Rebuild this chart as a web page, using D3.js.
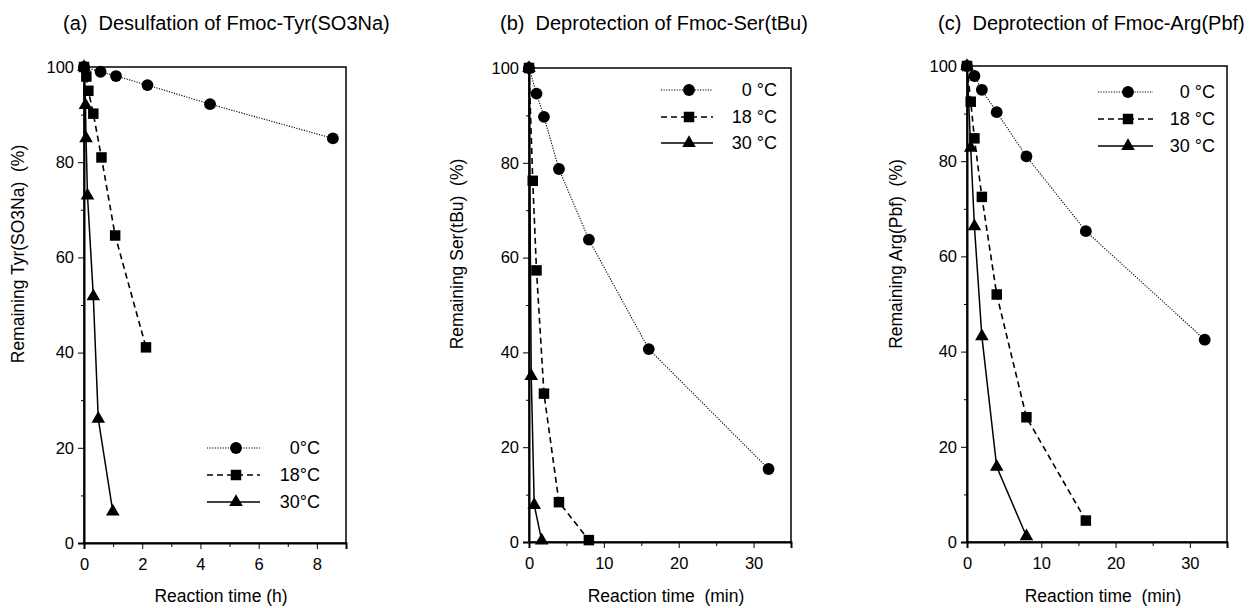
<!DOCTYPE html>
<html>
<head>
<meta charset="utf-8">
<script src="https://cdn.jsdelivr.net/npm/d3@7"></script>
<style>
  body { margin: 0; background: #fff; }
  svg { font-family: "Liberation Sans", Arial, sans-serif; }
  svg text { white-space: pre; }
</style>
</head>
<body>
<svg id="chart" width="1256" height="608"></svg>
<script>
// panel (a): desulfation, time in hours
const tyrTime0 = [0, 0.57, 1.1, 2.18, 4.33, 8.55];
const tyrVal0 = [100, 99, 98.1, 96.2, 92.2, 85];
const tyrTime18 = [0, 0.08, 0.15, 0.32, 0.6, 1.07, 2.13];
const tyrVal18 = [100, 98, 95, 90.2, 81, 64.6, 41.1];
const tyrTime30 = [0, 0.05, 0.07, 0.12, 0.32, 0.49, 0.99];
const tyrVal30 = [100, 92, 85, 73, 51.8, 26.1, 6.6];

// panel (b): Ser(tBu), time in minutes
const serTime0 = [0, 1, 2, 4, 8, 16, 32];
const serVal0 = [100, 94.6, 89.7, 78.7, 63.8, 40.7, 15.4];
const serTime18 = [0, 0.5, 1, 2, 4, 8];
const serVal18 = [100, 76.2, 57.3, 31.3, 8.4, 0.4];
const serTime30 = [0, 0.3, 0.7, 1.7];
const serVal30 = [100, 35, 7.8, 0.3];

// panel (c): Arg(Pbf), time in minutes
const argTime0 = [0, 1, 2, 4, 8, 16, 32];
const argVal0 = [100, 97.9, 95, 90.3, 81, 65.3, 42.5];
const argTime18 = [0, 0.5, 1, 2, 4, 8, 16];
const argVal18 = [100, 92.5, 84.8, 72.5, 52, 26.2, 4.5];
const argTime30 = [0, 0.5, 1, 2, 4, 8];
const argVal30 = [100, 82.8, 66.3, 43.2, 15.8, 1.2];

const yTicks = [0, 20, 40, 60, 80, 100];
const yMinor = d3.range(0, 101, 10);

const panels = [
  {
    title: "(a)  Desulfation of Fmoc-Tyr(SO3Na)", titleX: 63,
    ylabel: "Remaining Tyr(SO3Na)  (%)", ylabelX: 24,
    xlabel: "Reaction time (h)",
    x0: 84, x1: 346, y0: 543, y1: 67, xmax: 9,
    xTicks: [0, 2, 4, 6, 8], xMinor: d3.range(0, 10, 1),
    series: [[tyrTime0, tyrVal0], [tyrTime18, tyrVal18], [tyrTime30, tyrVal30]],
    legend: { lx0: 207, lx1: 260, mx: 236, tx: 320, rows: [448, 475, 502] },
    temps: ["0°C", "18°C", "30°C"]
  },
  {
    title: "(b)  Deprotection of Fmoc-Ser(tBu)", titleX: 500,
    ylabel: "Remaining Ser(tBu)  (%)", ylabelX: 463,
    xlabel: "Reaction time  (min)",
    x0: 529, x1: 791, y0: 542, y1: 68, xmax: 35,
    xTicks: [0, 10, 20, 30], xMinor: d3.range(0, 36, 5),
    series: [[serTime0, serVal0], [serTime18, serVal18], [serTime30, serVal30]],
    legend: { lx0: 661, lx1: 713, mx: 689, tx: 777, rows: [90, 117, 143] },
    temps: ["0 °C", "18 °C", "30 °C"]
  },
  {
    title: "(c)  Deprotection of Fmoc-Arg(Pbf)", titleX: 938,
    ylabel: "Remaining Arg(Pbf)  (%)", ylabelX: 902,
    xlabel: "Reaction time  (min)",
    x0: 967, x1: 1227, y0: 542, y1: 66, xmax: 35,
    xTicks: [0, 10, 20, 30], xMinor: d3.range(0, 36, 5),
    series: [[argTime0, argVal0], [argTime18, argVal18], [argTime30, argVal30]],
    legend: { lx0: 1098, lx1: 1153, mx: 1128, tx: 1215, rows: [92, 119, 146] },
    temps: ["0 °C", "18 °C", "30 °C"]
  }
];

const lineStyles = [
  { dash: "1.2,1.4", width: 1.1 },
  { dash: "6,4", width: 1.6 },
  { dash: null, width: 1.5 }
];
const symbols = [
  d3.symbol().type(d3.symbolCircle).size(110),
  d3.symbol().type(d3.symbolSquare).size(110),
  d3.symbol().type(d3.symbolTriangle).size(80)
];

const svg = d3.select("#chart");

panels.forEach(p => {
  const x = d3.scaleLinear().domain([0, p.xmax]).range([p.x0, p.x1]);
  const y = d3.scaleLinear().domain([0, 100]).range([p.y0, p.y1]);
  const g = svg.append("g");

  g.append("text")
    .attr("x", p.titleX).attr("y", 30)
    .attr("font-size", 20)
    .text(p.title);

  // frame
  g.append("rect")
    .attr("x", p.x0).attr("y", p.y1)
    .attr("width", p.x1 - p.x0).attr("height", p.y0 - p.y1)
    .attr("fill", "none").attr("stroke", "#000").attr("stroke-width", 1.5);

  // y axis
  const ya = g.append("g")
    .attr("transform", `translate(${p.x0},0)`)
    .call(d3.axisLeft(y).tickValues(yTicks).tickSize(6).tickPadding(4));
  ya.select(".domain").attr("stroke-width", 2);
  ya.selectAll("text").attr("font-size", 16.5).attr("font-family", null);
  g.append("g")
    .attr("transform", `translate(${p.x0},0)`)
    .call(d3.axisLeft(y).tickValues(yMinor.filter(v => v % 20)).tickSize(3).tickFormat(""))
    .call(a => a.select(".domain").remove());

  // x axis
  const xa = g.append("g")
    .attr("transform", `translate(0,${p.y0})`)
    .call(d3.axisBottom(x).tickValues(p.xTicks).tickSize(6).tickPadding(9));
  xa.select(".domain").attr("stroke-width", 2);
  xa.selectAll("text").attr("font-size", 16.5).attr("font-family", null);
  g.append("g")
    .attr("transform", `translate(0,${p.y0})`)
    .call(d3.axisBottom(x).tickValues(p.xMinor.filter(v => !p.xTicks.includes(v))).tickSize(4).tickFormat(""))
    .call(a => a.select(".domain").remove());

  g.append("text")
    .attr("x", (p.x0 + p.x1) / 2 + 6).attr("y", 602)
    .attr("text-anchor", "middle").attr("font-size", 17.5)
    .text(p.xlabel);

  g.append("text")
    .attr("transform", `translate(${p.ylabelX},254) rotate(-90)`)
    .attr("text-anchor", "middle").attr("font-size", 17.5)
    .text(p.ylabel);

  const line = d3.line().x(d => x(d[0])).y(d => y(d[1]));

  p.series.forEach(([ts, vs], i) => {
    const pts = ts.map((t, k) => [t, vs[k]]);
    g.append("path")
      .datum(pts)
      .attr("d", line)
      .attr("fill", "none").attr("stroke", "#000")
      .attr("stroke-width", lineStyles[i].width)
      .attr("stroke-dasharray", lineStyles[i].dash);
    g.selectAll(null)
      .data(pts)
      .join("path")
      .attr("transform", d => `translate(${x(d[0])},${y(d[1])})`)
      .attr("d", symbols[i]())
      .attr("fill", "#000");
  });

  // legend
  p.temps.forEach((t, i) => {
    const ry = p.legend.rows[i];
    g.append("line")
      .attr("x1", p.legend.lx0).attr("x2", p.legend.lx1)
      .attr("y1", ry).attr("y2", ry)
      .attr("stroke", "#000")
      .attr("stroke-width", lineStyles[i].width)
      .attr("stroke-dasharray", lineStyles[i].dash);
    g.append("path")
      .attr("transform", `translate(${p.legend.mx},${ry})`)
      .attr("d", symbols[i]())
      .attr("fill", "#000");
    g.append("text")
      .attr("x", p.legend.tx).attr("y", ry + 6)
      .attr("text-anchor", "end").attr("font-size", 18)
      .text(t);
  });
});
</script>
</body>
</html>
